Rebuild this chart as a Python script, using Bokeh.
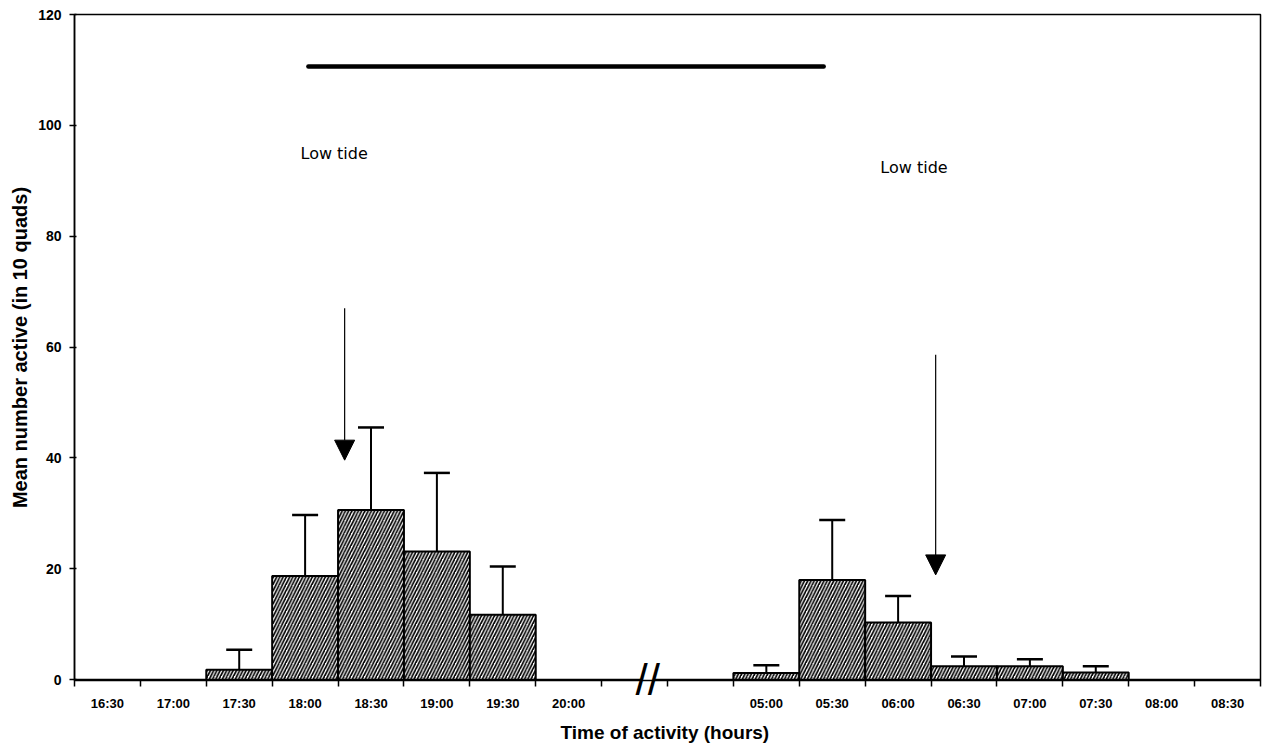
from bokeh.plotting import figure
from bokeh.models import (FixedTicker, Arrow, NormalHead, Label, ColumnDataSource,
                          Range1d, Whisker, TeeHead, LinearAxis)
from bokeh.embed import file_html
from bokeh.resources import INLINE

# Half-hour slots along the time axis (two unlabelled slots hold the axis break)
slot_labels = ["16:30", "17:00", "17:30", "18:00", "18:30", "19:00", "19:30", "20:00",
               "", "",
               "05:00", "05:30", "06:00", "06:30", "07:00", "07:30", "08:00", "08:30"]

# Mean number active (in 10 quads) and standard error, for slots with activity
bar_times = ["17:30", "18:00", "18:30", "19:00", "19:30",
             "05:00", "05:30", "06:00", "06:30", "07:00", "07:30"]
bar_means = [1.8, 18.7, 30.6, 23.1, 11.7, 1.2, 18.0, 10.3, 2.4, 2.4, 1.3]
bar_se = [3.6, 11.0, 14.9, 14.2, 8.7, 1.4, 10.8, 4.8, 1.8, 1.3, 1.1]

y_ticks = [0, 20, 40, 60, 80, 100, 120]

# Dark period bar (slot units) and its height
dark_start, dark_end, dark_level = 3.05, 10.87, 110.6

# Low tide markers: arrow position (slot units), arrow top and tip
low_tide_x = [3.6, 12.57]
low_tide_top = [67.0, 58.6]
low_tide_tip = [39.6, 18.9]
low_tide_text_x = [2.93, 11.73]
low_tide_text_y = [95.0, 92.4]

# Axis break position and the gap it leaves in the baseline (slot units)
break_x = 8.2
break_gap = (8.1, 8.3)

FONT = "Liberation Sans"

n = len(slot_labels)
xs = [slot_labels.index(t) for t in bar_times]
src = ColumnDataSource(dict(
    x=xs,
    mean=bar_means,
    upper=[m + s for m, s in zip(bar_means, bar_se)],
))

p = figure(width=1267, height=749, output_backend="svg", toolbar_location=None,
           x_range=Range1d(-0.5, n - 0.5), y_range=Range1d(-0.15, 120),
           min_border_left=74, min_border_right=7, min_border_top=14,
           min_border_bottom=69)
p.background_fill_color = "white"
p.border_fill_color = "white"
p.outline_line_color = "black"
p.outline_line_width = 1.5
p.grid.visible = False

# Baseline, interrupted at the axis break
p.segment(x0=[-0.5, break_gap[1]], y0=[0, 0], x1=[break_gap[0], n - 0.5], y1=[0, 0],
          line_color="black", line_width=1.6)

# Hatched bars
p.vbar(x="x", top="mean", bottom=0, width=1.0, source=src,
       fill_color="white", line_color="black", line_width=2,
       hatch_pattern="/", hatch_color="black", hatch_scale=6.5, hatch_weight=1.7)

# Upper error bars
p.add_layout(Whisker(source=src, base="x", lower="mean", upper="upper",
                     line_color="black", line_width=2,
                     upper_head=TeeHead(size=26, line_color="black", line_width=2.5),
                     lower_head=None))

# Dark period
p.line([dark_start, dark_end], [dark_level, dark_level],
       line_color="black", line_width=4.5, line_cap="round")

# Low tide arrows and labels
for x, top, tip, tx, ty in zip(low_tide_x, low_tide_top, low_tide_tip,
                               low_tide_text_x, low_tide_text_y):
    p.add_layout(Arrow(x_start=x, y_start=top, x_end=x, y_end=tip,
                       line_color="black", line_width=1.2,
                       end=NormalHead(size=20, fill_color="black", line_color="black")))
    p.add_layout(Label(x=tx, y=ty, text="Low tide", text_font="DejaVu Sans",
                       text_font_size="16px", text_color="black",
                       text_baseline="middle", text_align="left"))

# x axis: labels at slot centres, ticks at slot boundaries
xax = p.xaxis[0]
xax.ticker = FixedTicker(ticks=list(range(n)),
                         minor_ticks=[i - 0.5 for i in range(n + 1)])
xax.major_label_overrides = {i: lab for i, lab in enumerate(slot_labels)}
xax.major_tick_in = 0
xax.major_tick_out = 0
xax.minor_tick_in = 0
xax.minor_tick_out = 6
xax.minor_tick_line_color = "black"
xax.minor_tick_line_width = 1.5
xax.axis_line_color = None
xax.major_label_standoff = 9
xax.major_label_text_font = FONT
xax.major_label_text_font_size = "13px"
xax.major_label_text_font_style = "bold"
xax.major_label_text_color = "black"

# Second bottom axis carries the break mark (drawn up across the baseline) and the title
brk = LinearAxis(ticker=FixedTicker(ticks=[break_x], minor_ticks=[]),
                 major_label_overrides={break_x: "//"},
                 axis_line_color=None, major_tick_line_color=None,
                 minor_tick_line_color=None,
                 major_tick_in=0, major_tick_out=0,
                 major_label_standoff=-59,
                 major_label_text_font=FONT, major_label_text_font_size="44px",
                 major_label_text_color="black",
                 axis_label="Time of activity  (hours)",
                 axis_label_text_font=FONT, axis_label_text_font_size="19px",
                 axis_label_text_font_style="bold", axis_label_text_color="black",
                 axis_label_standoff=15)
p.add_layout(brk, "below")

yax = p.yaxis[0]
yax.ticker = FixedTicker(ticks=y_ticks, minor_ticks=[])
yax.major_tick_in = 2
yax.major_tick_out = 5
yax.major_tick_line_color = "black"
yax.major_tick_line_width = 1.5
yax.axis_line_color = "black"
yax.axis_line_width = 1.5
yax.major_label_standoff = 8
yax.major_label_text_font = FONT
yax.major_label_text_font_size = "14px"
yax.major_label_text_font_style = "bold"
yax.major_label_text_color = "black"
yax.axis_label = "Mean number active (in 10 quads)"
yax.axis_label_text_font = FONT
yax.axis_label_text_font_size = "20px"
yax.axis_label_text_font_style = "bold"
yax.axis_label_text_color = "black"
yax.axis_label_standoff = 4

open("out.html", "w").write(file_html(p, INLINE))
